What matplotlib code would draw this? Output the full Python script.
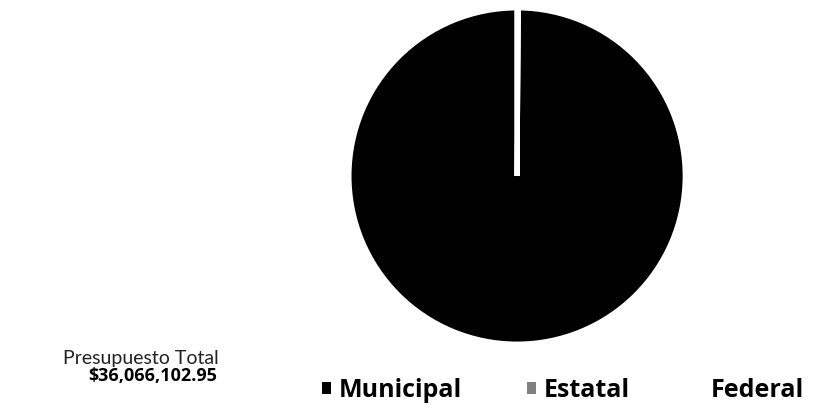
import matplotlib.pyplot as plt
from matplotlib.patches import Patch

# Presupuesto por origen de los recursos
labels = ["Municipal", "Estatal", "Federal"]
values = [36016102.95, 50000.00, 0.00]
colors = ["#000000", "#808080", "#ffffff"]
total_text = "$36,066,102.95"

plt.rcParams['font.family'] = ['Lato', 'DejaVu Sans']

fig = plt.figure(figsize=(8.15, 4.15), dpi=100)
ax = fig.add_axes([0.4283, 0.1711, 0.4123, 0.8096])

ax.pie(values, colors=colors, startangle=90, counterclock=True,
       wedgeprops={'edgecolor': 'white', 'linewidth': 3.5})
ax.set_xlim(-1, 1)
ax.set_ylim(-1, 1)
ax.set_aspect('equal')

# Total del presupuesto a la izquierda
fig.text(0.268, 0.137, "Presupuesto Total", ha='right', va='center',
         fontsize=14, color='#222222')
fig.text(0.266, 0.094, total_text, ha='right', va='center',
         fontsize=13, fontweight='bold', family=['Open Sans', 'DejaVu Sans'])

# Leyenda en la parte inferior
handles = [Patch(facecolor=c, edgecolor='none') for c in colors]
fig.legend(handles, labels, loc='center', bbox_to_anchor=(0.691, 0.058),
           ncol=3, frameon=False, handlelength=0.36, handleheight=0.36,
           handletextpad=0.3, columnspacing=2.6,
           prop={'family': 'Open Sans', 'size': 18, 'weight': 'bold'})

fig.savefig("out.png", dpi=100)
